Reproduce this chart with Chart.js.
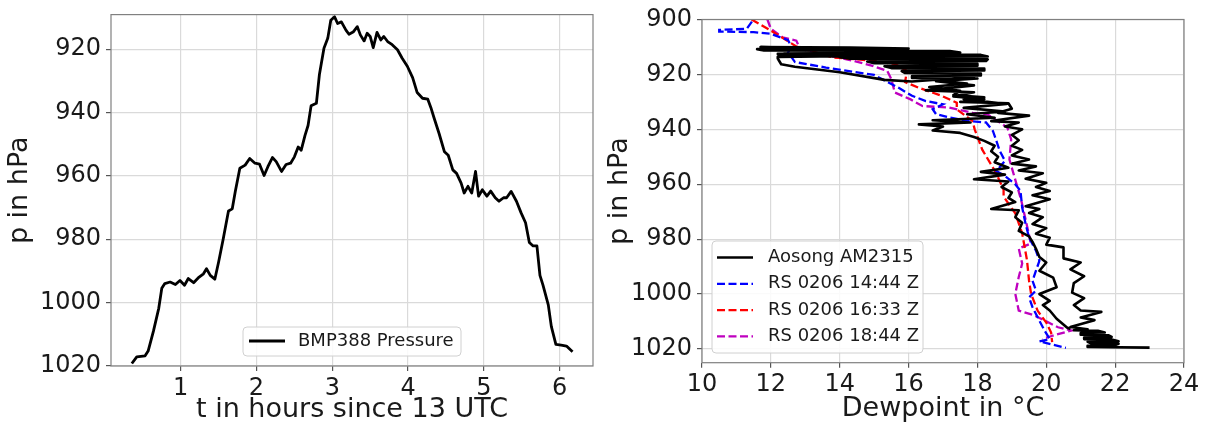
<!DOCTYPE html>
<html><head><meta charset="utf-8">
<script src="https://cdn.jsdelivr.net/npm/chart.js@4.4.1/dist/chart.umd.min.js"></script>
<style>
html,body{margin:0;padding:0;background:#fff;}
#wrap{position:relative;width:1208px;height:428px;overflow:hidden;background:#fff;}
#c1{position:absolute;left:0;top:0;}
#c2{position:absolute;left:600px;top:0;}
</style></head><body>
<div id="wrap">
<canvas id="c1" width="600" height="428"></canvas>
<canvas id="c2" width="608" height="428"></canvas>
</div>
<script>
// ---------- Left panel: BMP388 pressure vs time ----------
const timeHours = [0.355,0.42,0.53,0.57,0.64,0.71,0.75,0.79,0.86,0.93,
  0.99,1.05,1.10,1.17,1.23,1.30,1.34,1.39,1.45,1.50,
  1.56,1.63,1.68,1.72,1.78,1.85,1.91,1.98,2.04,2.10,
  2.15,2.21,2.26,2.33,2.39,2.45,2.50,2.55,2.59,2.64,
  2.68,2.72,2.79,2.83,2.89,2.94,2.98,3.03,3.07,3.12,
  3.18,3.22,3.28,3.33,3.37,3.42,3.46,3.50,3.54,3.59,
  3.64,3.68,3.73,3.79,3.86,3.92,3.99,4.06,4.12,4.19,
  4.26,4.30,4.34,4.41,4.48,4.53,4.59,4.64,4.70,4.74,
  4.79,4.84,4.89,4.93,4.98,5.04,5.09,5.15,5.20,5.26,
  5.30,5.36,5.43,5.49,5.55,5.60,5.65,5.70,5.74,5.78,
  5.85,5.89,5.95,6.02,6.09,6.17];
const pressureBMP = [1019.2,1017.1,1016.8,1015.3,1009.0,1001.8,995.5,994.0,993.5,994.3,
  993.0,994.5,992.4,993.7,992.2,990.9,989.3,991.4,992.6,987.2,
  980.0,971.1,970.4,964.9,957.6,956.6,954.5,956.0,956.3,959.9,
  957.1,954.2,955.5,958.6,956.4,956.0,954.0,950.9,951.9,947.2,
  944.1,937.9,937.1,928.0,919.7,916.6,910.9,909.8,911.9,911.4,
  914.0,915.3,914.5,912.9,915.5,917.4,915.0,916.0,919.5,914.7,
  917.1,916.0,917.6,918.6,920.2,922.8,925.4,929.0,933.7,935.5,
  935.8,938.4,941.5,946.7,952.4,953.5,958.1,959.2,962.3,965.4,
  963.3,965.4,958.6,966.4,964.4,966.4,964.8,966.9,968.0,966.9,
  966.9,964.9,968.0,971.6,974.8,981.0,982.1,982.1,991.4,994.5,
  1000.7,1007.5,1013.2,1013.4,1013.7,1015.5];
const xTicksLeft = [1,2,3,4,5,6];
const yTicksLeft = [920,940,960,980,1000,1020];

// ---------- Right panel: dewpoint profiles ----------
// Aosong AM2315 (ascent then descent), dewpoint in degC and pressure in hPa
const aosongDew = [
  23.0,21.2,21.2,22.0,22.1,21.3,21.2,22.1,21.9,21.1,
  21.1,21.9,21.8,21.0,21.0,21.7,21.5,20.8,21.2,20.7,
  21.4,21.0,21.6,21.0,20.8,21.1,20.75,20.8,21.1,20.7,
  21.0,20.5,20.5,20.0,20.1,19.7,20.0,19.6,19.9,19.5,
  19.8,19.4,20.1,19.6,20.1,19.7,20.0,19.4,19.9,19.2,
  19.7,19.0,19.5,19.0,19.3,19.0,19.2,19.0,19.3,18.8,
  19.2,18.4,19.5,18.6,19.0,18.9,17.5,18.2,17.3,17.9,
  16.5,17.9,16.8,18.0,16.1,16.1,18.1,18.1,15.9,15.8,
  18.2,18.2,15.5,15.3,18.0,18.0,15.0,14.8,18.25,18.3,
  14.3,14.0,18.3,18.1,13.0,12.4,17.5,17.2,11.8,11.6,
  16.0,14.3,11.7,
  13.5,12.2,17.0,12.2,16.5,12.2,12.2,12.3,12.7,14.0,
  15.3,16.1,17.9,16.9,17.7,16.6,17.5,17.3,18.2,17.6,
  18.85,17.6,18.8,17.7,18.5,16.7,17.8,16.3,17.0,16.7,
  17.5,17.9,18.2,18.5,18.4,18.6,18.5,18.9,18.1,18.8,
  17.9,18.9,18.7,19.0,18.9,19.1,18.4,19.2,19.1,19.3,
  19.2,19.5,19.6,19.7,19.8,20.0,19.8,20.2,20.3,19.8,
  20.1,19.9,20.1,20.3,20.6,20.7];
const aosongP = [
  1019.5,1019.3,1018.8,1018.6,1018.1,1017.9,1017.4,1017.2,1016.6,1016.4,
  1015.8,1015.6,1015.0,1014.8,1014.2,1014.0,1013.4,1013.2,1012.8,1012.0,
  1009.5,1008.5,1006.5,1006.0,1004.0,1001.5,999.5,996.0,993.5,991.0,
  988.5,987.0,983.0,982.0,979.5,978.0,976.0,974.5,972.0,970.5,
  969.0,968.0,965.5,964.0,962.5,961.0,959.5,958.0,956.0,955.0,
  953.5,952.5,951.0,949.5,947.5,946.0,944.0,942.0,940.0,939.0,
  937.5,937.0,935.0,934.0,932.5,930.5,930.0,929.0,928.0,926.5,
  925.8,924.0,922.5,921.5,921.3,920.6,920.4,919.7,919.5,918.8,
  918.6,917.9,917.7,917.0,916.8,916.1,915.9,915.3,915.1,914.5,
  914.3,913.7,913.5,912.9,912.7,912.2,912.0,911.5,911.3,910.8,
  910.6,910.2,910.0,
  910.6,911.5,911.8,912.6,913.0,913.6,914.2,916.3,917.2,919.2,
  922.0,922.6,920.9,922.3,923.3,924.6,926.0,927.5,928.3,929.0,
  930.8,932.2,933.5,934.5,935.8,936.7,937.5,938.2,939.0,940.4,
  941.3,942.8,944.2,946.0,948.0,950.0,952.0,954.0,955.5,956.5,
  958.2,959.0,961.0,963.0,965.0,966.5,969.0,969.5,972.0,974.0,
  977.0,979.0,981.0,983.5,986.5,988.5,991.5,994.0,997.5,1000.0,
  1002.5,1004.0,1006.0,1009.0,1012.2,1012.7];
const rs1444Dew = [11.45,11.3,10.5,10.5,11.5,12.0,12.5,12.6,12.5,12.7,
  13.6,15.0,15.7,16.1,16.5,17.0,16.7,16.8,17.2,17.7,
  18.25,18.45,18.55,18.65,18.8,18.55,18.8,19.1,19.25,19.3,
  19.4,19.5,19.7,19.8,19.7,19.6,19.7,19.5,19.6,19.8,
  19.95,20.1,19.8,20.57];
const rs1444P = [900.8,903.4,903.8,904.4,904.6,905.2,907.5,910.0,912.0,915.5,
  917.5,920.2,924.8,927.8,929.7,930.9,932.7,934.5,935.7,936.9,
  937.5,940.6,944.2,947.9,951.5,955.2,957.0,960.0,962.4,968.5,
  974.5,979.4,984.2,987.9,991.5,995.2,998.7,1001.2,1004.8,1009.7,
  1013.3,1016.4,1017.2,1019.6];
const rs1633Dew = [11.44,12.0,12.75,13.8,14.93,15.6,15.95,15.9,16.28,16.96,
  17.4,17.4,17.86,17.92,18.14,18.54,18.76,18.76,19.1,19.3,
  19.44,19.5,19.56,19.75,20.0,20.14,20.17];
const rs1633P = [900.0,904.0,909.9,913.8,915.0,916.2,918.7,922.8,924.8,927.8,
  930.3,932.7,937.0,940.0,947.4,955.9,962.0,964.5,970.6,977.9,
  987.7,995.2,1000.0,1006.1,1010.4,1014.0,1017.5];
const rs1844Dew = [11.9,12.0,12.34,12.74,12.85,13.47,14.37,14.93,15.38,15.5,
  15.6,16.06,16.4,17.18,17.86,18.3,18.87,18.98,18.93,19.1,
  19.27,19.38,19.49,19.55,19.2,19.3,19.2,19.1,19.2,19.66,
  20.34,20.73,20.2,19.89];
const rs1844P = [900.0,903.4,906.5,907.7,910.7,912.6,915.0,916.8,918.7,921.7,
  926.6,929.1,931.5,932.1,934.0,934.6,939.4,943.7,951.0,958.4,
  965.7,971.8,977.9,981.6,983.4,988.9,993.8,999.9,1006.0,1007.8,
  1012.1,1013.3,1015.1,1016.4];
const xTicksRight = [10,12,14,16,18,20,22,24];
const yTicksRight = [900,920,940,960,980,1000,1020];
const seriesLabels = ['Aosong AM2315','RS 0206 14:44 Z','RS 0206 16:33 Z','RS 0206 18:44 Z'];

// ---------- helpers ----------
const FONT = 'DejaVu Sans';
const TXT = '#1a1a1a';
const GRID = '#dadada';
function pts(xs, ys){ return xs.map((x,i)=>({x:x, y:ys[i]})); }
function fixedTicks(arr){ return s => { s.ticks = arr.map(v=>({value:v})); }; }

const framePlugin = {
  id:'frame',
  afterDatasetsDraw(chart){
    const {ctx, chartArea:a} = chart;
    ctx.save();
    ctx.strokeStyle = '#808080'; ctx.lineWidth = 1.2;
    ctx.strokeRect(a.left, a.top, a.right-a.left, a.bottom-a.top);
    ctx.restore();
  }
};
const boxLegend = {
  id:'boxLegend',
  afterDraw(chart, args, o){
    if(!o || !o.items) return;
    const ctx = chart.ctx;
    ctx.save();
    const r = 4, x=o.x, y=o.y, w=o.w, h=o.h;
    ctx.beginPath();
    ctx.moveTo(x+r,y); ctx.lineTo(x+w-r,y); ctx.quadraticCurveTo(x+w,y,x+w,y+r);
    ctx.lineTo(x+w,y+h-r); ctx.quadraticCurveTo(x+w,y+h,x+w-r,y+h);
    ctx.lineTo(x+r,y+h); ctx.quadraticCurveTo(x,y+h,x,y+h-r);
    ctx.lineTo(x,y+r); ctx.quadraticCurveTo(x,y,x+r,y); ctx.closePath();
    ctx.fillStyle = 'rgba(255,255,255,0.85)'; ctx.fill();
    ctx.strokeStyle = '#d0d0d0'; ctx.lineWidth = 1; ctx.stroke();
    o.items.forEach((it,i)=>{
      const yy = o.rowY + i*o.rowGap;
      ctx.beginPath();
      ctx.setLineDash(it.dash || []);
      ctx.strokeStyle = it.color; ctx.lineWidth = it.width;
      ctx.moveTo(o.lineX0, yy); ctx.lineTo(o.lineX1, yy); ctx.stroke();
      ctx.setLineDash([]);
      ctx.fillStyle = TXT;
      ctx.font = o.fontSize + 'px "' + FONT + '"';
      ctx.textBaseline = 'middle'; ctx.textAlign = 'left';
      ctx.fillText(it.label, o.textX, yy);
    });
    ctx.restore();
  }
};

function axis(opts){
  return {
    type:'linear', min:opts.min, max:opts.max, reverse:!!opts.reverse,
    afterBuildTicks: fixedTicks(opts.ticks),
    afterFit: opts.fit,
    ticks:{ font:{family:FONT, size:24, lineHeight:opts.lh || 1.2}, color:TXT, padding:opts.tpad,
            maxRotation:0, autoSkip:false, callback: v => String(v) },
    grid:{ color:GRID, lineWidth:1.2, drawTicks:true, tickLength:5, tickColor:'#555' },
    border:{ display:false },
    title:{ display:true, text:opts.title, font:{family:FONT, size:27}, color:TXT, padding:opts.titlePad }
  };
}

Chart.defaults.font.family = FONT;

new Chart(document.getElementById('c1'), {
  type:'scatter',
  data:{ datasets:[{
    label:'BMP388 Pressure',
    data: pts(timeHours, pressureBMP),
    showLine:true, borderColor:'#000', borderWidth:2.8, pointRadius:0, tension:0,
    borderJoinStyle:'round', fill:false
  }]},
  options:{
    responsive:false, animation:false, devicePixelRatio:1,
    layout:{ padding:{ top:10.7, right:7, bottom:0, left:0 } },
    plugins:{
      legend:{display:false}, tooltip:{enabled:false},
      boxLegend:{ x:243, y:327, w:218, h:29, rowY:341, rowGap:0, lineX0:249, lineX1:285, textX:298, fontSize:18,
        items:[{label:'BMP388 Pressure', color:'#000', width:2.8}] }
    },
    scales:{
      x: axis({min:0.08, max:6.44, ticks:xTicksLeft, tpad:3, title:'t in hours since 13 UTC',
               titlePad:{top:0,bottom:2}, fit: s=>{ s.height = 62; }}),
      y: axis({min:909.1, max:1020, reverse:true, ticks:yTicksLeft, tpad:5, lh:0.8, title:'p in hPa',
               titlePad:{top:4,bottom:0}, fit: s=>{ s.width = 111; }})
    }
  },
  plugins:[framePlugin, boxLegend]
});

const dash = [8, 3.5];
new Chart(document.getElementById('c2'), {
  type:'scatter',
  data:{ datasets:[
    { label:seriesLabels[0], data:pts(aosongDew, aosongP), showLine:true, borderColor:'#000', borderWidth:2.6,
      pointRadius:0, tension:0, borderJoinStyle:'round', fill:false },
    { label:seriesLabels[1], data:pts(rs1444Dew, rs1444P), showLine:true, borderColor:'#0000ff', borderWidth:2.3,
      borderDash:dash, pointRadius:0, tension:0, fill:false },
    { label:seriesLabels[2], data:pts(rs1633Dew, rs1633P), showLine:true, borderColor:'#ff0000', borderWidth:2.3,
      borderDash:dash, pointRadius:0, tension:0, fill:false },
    { label:seriesLabels[3], data:pts(rs1844Dew, rs1844P), showLine:true, borderColor:'#bf00bf', borderWidth:2.3,
      borderDash:dash, pointRadius:0, tension:0, fill:false }
  ]},
  options:{
    responsive:false, animation:false, devicePixelRatio:1,
    layout:{ padding:{ top:19.5, right:24, bottom:0, left:0 } },
    plugins:{
      legend:{display:false}, tooltip:{enabled:false},
      boxLegend:{ x:112, y:241, w:211, h:112, rowY:257.5, rowGap:26.3, lineX0:117, lineX1:153, textX:168, fontSize:18,
        items:[
          {label:seriesLabels[0], color:'#000', width:2.6},
          {label:seriesLabels[1], color:'#0000ff', width:2.3, dash:dash},
          {label:seriesLabels[2], color:'#ff0000', width:2.3, dash:dash},
          {label:seriesLabels[3], color:'#bf00bf', width:2.3, dash:dash}
        ] }
    },
    scales:{
      x: axis({min:10, max:24, ticks:xTicksRight, tpad:3, title:'Dewpoint in °C',
               titlePad:{top:0,bottom:3}, fit: s=>{ s.height = 65.3; }}),
      y: axis({min:900, max:1025, reverse:true, ticks:yTicksRight, tpad:5, lh:0.8, title:'p in hPa',
               titlePad:{top:4,bottom:0}, fit: s=>{ s.width = 102; }})
    }
  },
  plugins:[framePlugin, boxLegend]
});
</script>
</body></html>
